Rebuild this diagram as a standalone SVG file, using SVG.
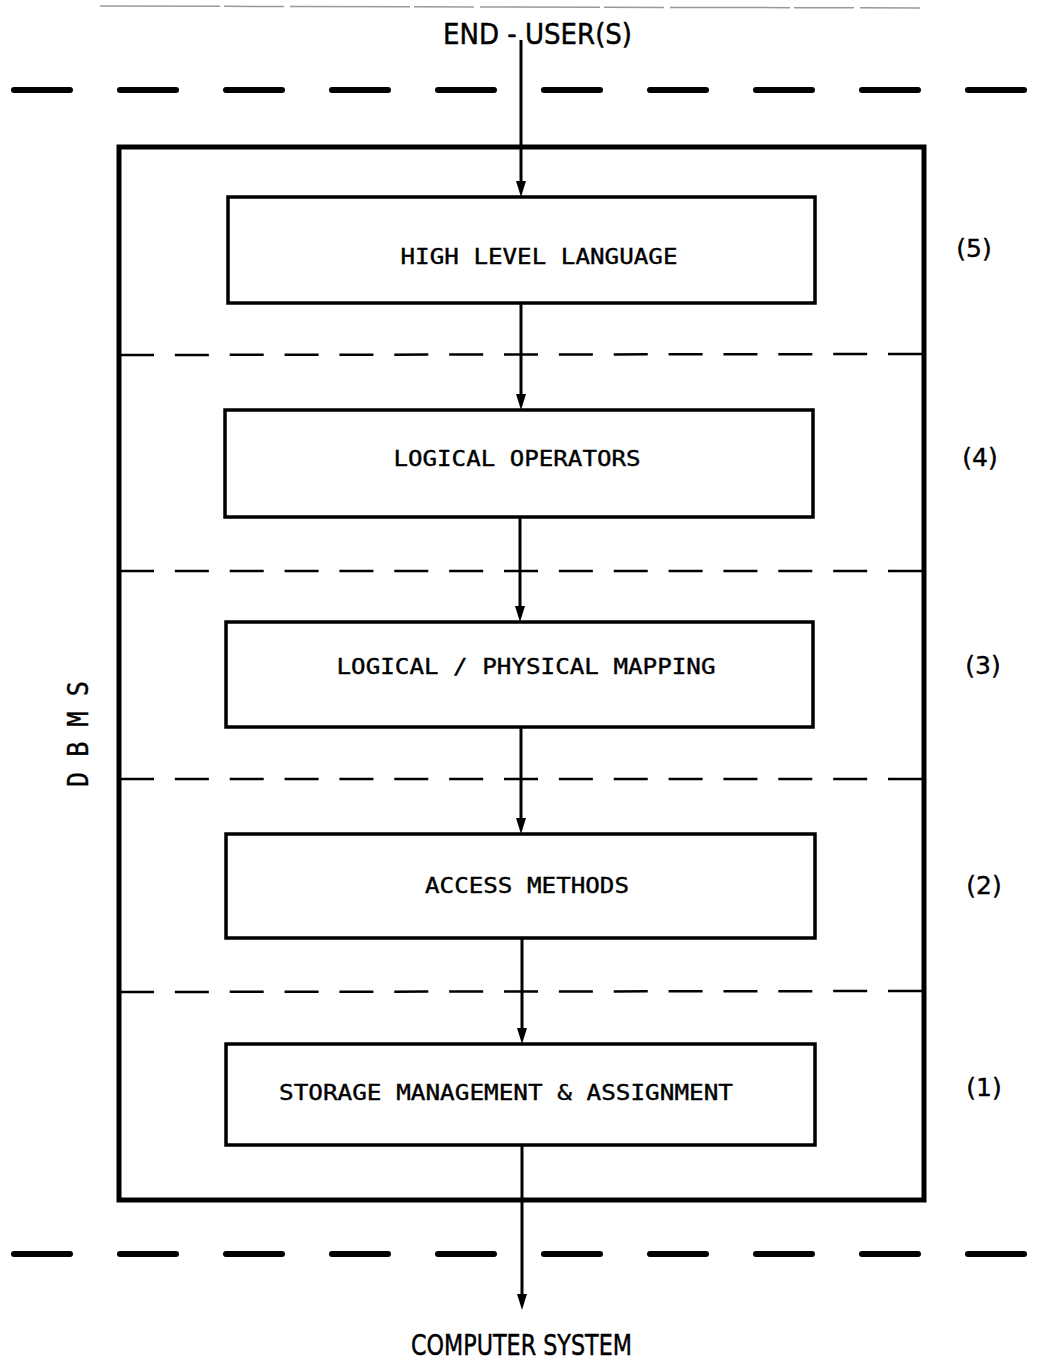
<svg xmlns="http://www.w3.org/2000/svg" width="1040" height="1367" viewBox="0 0 1040 1367">
<defs>
<style>
.bg{fill:#fff}
.outer{fill:none;stroke:#000;stroke-width:5}
.box{fill:#fff;stroke:#000;stroke-width:3.5}
.thick{stroke:#000;stroke-width:6;stroke-linecap:round;stroke-dasharray:56 50}
.thin{stroke:#000;stroke-width:2.5;stroke-dasharray:34 20.86}
.conn{stroke:#000;stroke-width:3;fill:none}
.lbl{font-family:"DejaVu Sans Mono","Liberation Mono",monospace;font-size:22px;fill:#000;text-anchor:middle;stroke:#000;stroke-width:0.4}
.ext{font-family:"DejaVu Sans","Liberation Sans",sans-serif;font-size:29px;fill:#000;stroke:#000;stroke-width:0.5}
.num{font-family:"DejaVu Sans","Liberation Sans",sans-serif;font-size:25px;fill:#000;text-anchor:middle;stroke:#000;stroke-width:0.4}
</style>
</defs>
<rect class="bg" width="1040" height="1367"/>
<line x1="100" y1="6" x2="920" y2="8" stroke="#999" stroke-width="1.5" stroke-dasharray="120 4 60 6"/>
<g id="layer-lines">
<line class="thick" x1="14" y1="90" x2="1040" y2="90"/>
<line class="thick" x1="14" y1="1254" x2="1040" y2="1254"/>
<line class="thin" x1="120" y1="355" x2="922" y2="354"/>
<line class="thin" x1="120" y1="571" x2="922" y2="571"/>
<line class="thin" x1="120" y1="779" x2="922" y2="779"/>
<line class="thin" x1="120" y1="992" x2="922" y2="991"/>
</g>
<g id="dbms">
<rect class="outer" x="119" y="147" width="805" height="1053"/>
<text x="78" y="734" class="lbl" transform="rotate(-90 78 734)" style="font-size:28px" dominant-baseline="central" textLength="106" lengthAdjust="spacingAndGlyphs">D B M S</text>
</g>
<g id="connectors">
<path class="conn" d="M521,40 V183"/>
<path d="M516,181 L526,181 L521,197 Z"/>
<path class="conn" d="M521,304 V396"/>
<path d="M516,394 L526,394 L521,410 Z"/>
<path class="conn" d="M520,518 V608"/>
<path d="M515,606 L525,606 L520,622 Z"/>
<path class="conn" d="M521,728 V820"/>
<path d="M516,818 L526,818 L521,834 Z"/>
<path class="conn" d="M522,939 V1030"/>
<path d="M517,1028 L527,1028 L522,1044 Z"/>
<path class="conn" d="M522,1146 V1296"/>
<path d="M517,1294 L527,1294 L522,1310 Z"/>
</g>
<g id="end-users">
<text class="ext" x="443" y="44" textLength="189" lengthAdjust="spacingAndGlyphs">END - USER(S)</text>
</g>
<g id="computer-system">
<text class="ext" x="411" y="1355" textLength="221" lengthAdjust="spacingAndGlyphs">COMPUTER SYSTEM</text>
</g>
<g id="n5">
<rect class="box" x="228" y="197" width="587" height="106"/>
<text class="lbl" x="539" y="264" textLength="277" lengthAdjust="spacingAndGlyphs">HIGH LEVEL LANGUAGE</text>
<text class="num" x="974" y="257">(5)</text>
</g>
<g id="n4">
<rect class="box" x="225" y="410" width="588" height="107"/>
<text class="lbl" x="517" y="466" textLength="247" lengthAdjust="spacingAndGlyphs">LOGICAL OPERATORS</text>
<text class="num" x="980" y="466">(4)</text>
</g>
<g id="n3">
<rect class="box" x="226" y="622" width="587" height="105"/>
<text class="lbl" x="526" y="674" textLength="379" lengthAdjust="spacingAndGlyphs">LOGICAL / PHYSICAL MAPPING</text>
<text class="num" x="983" y="674">(3)</text>
</g>
<g id="n2">
<rect class="box" x="226" y="834" width="589" height="104"/>
<text class="lbl" x="527" y="893" textLength="204" lengthAdjust="spacingAndGlyphs">ACCESS METHODS</text>
<text class="num" x="984" y="894">(2)</text>
</g>
<g id="n1">
<rect class="box" x="226" y="1044" width="589" height="101"/>
<text class="lbl" x="506" y="1100" textLength="454" lengthAdjust="spacingAndGlyphs">STORAGE MANAGEMENT &amp; ASSIGNMENT</text>
<text class="num" x="984" y="1096">(1)</text>
</g>
</svg>
